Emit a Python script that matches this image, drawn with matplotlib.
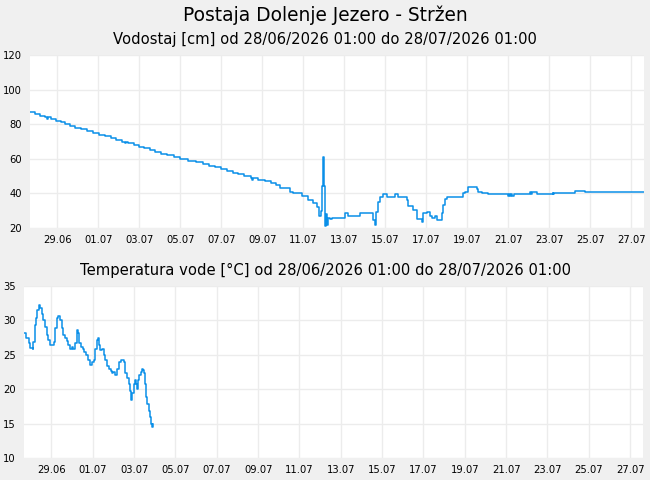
import datetime as dt
import matplotlib
matplotlib.use("Agg")
import matplotlib.pyplot as plt
import matplotlib.dates as mdates

# cas v dnevih od 28.06.2026 00:00
zacetek = dt.datetime(2026, 6, 28)

vodostaj_t = [-0.33, -0.1, 0.15, 0.4, 0.5, 0.55, 0.7, 0.95, 1.2, 1.4, 1.6, 1.85, 2.15,
              2.45, 2.75, 3.05, 3.35, 3.6, 3.85, 4.15, 4.3, 4.35, 4.45, 4.75, 5.0,
              5.25, 5.5, 5.75, 6.05, 6.35, 6.7, 7.0, 7.4, 7.75, 8.1, 8.4, 8.7, 9.0,
              9.3, 9.55, 9.8, 10.1, 10.45, 10.5, 10.55, 10.8, 11.15, 11.4, 11.65,
              11.86, 12.34,
              12.49, 12.93, 13.22, 13.47, 13.66, 13.76, 13.84, 13.91, 13.97, 14.0,
              14.05, 14.1, 14.15, 14.2, 14.3, 14.39, 14.78, 15.03, 15.17, 15.76,
              16.39, 16.49, 16.57, 16.63, 16.73, 16.87, 17.06, 17.46, 17.61, 18.05,
              18.1, 18.34, 18.54, 18.77, 18.83, 19.03, 19.17, 19.27, 19.42, 19.52,
              19.76, 19.81, 19.91, 20.01, 20.78, 20.88, 21.02, 21.46, 21.51, 21.7,
              22.0, 22.97, 23.02, 23.1, 23.15, 23.2, 23.3, 24.05, 24.1, 24.15, 24.39,
              25.17, 25.2, 25.25, 26.24, 26.73, 29.62]
vodostaj = [87, 86, 85, 84, 83, 84, 83, 82, 81, 80, 79, 78, 77,
            76, 75, 74, 73, 72, 71, 70, 69, 70, 69, 68, 67,
            66, 65, 64, 63, 62, 61, 60, 59, 58, 57, 56, 55, 54,
            53, 52, 51, 50, 49, 48, 49, 48, 47, 46, 45,
            43, 41,
            40, 38.5, 36.2, 34.3, 32.4, 27, 30, 44, 61, 44,
            21, 28, 22, 26, 25, 25.5, 26, 28.5, 27.1, 28.5,
            24.6, 21.7, 29.5, 35.2, 38.1, 39.5, 38.1, 39.5, 38.1, 36.2,
            33, 30.4, 25.2, 23.7, 28.5, 29.5, 27, 25.6, 27, 24.6,
            28.7, 33.3, 36.6, 38.1, 40, 40.7, 43.6, 42.4, 41, 40,
            39.5, 38.6, 39.5, 38.6, 39.5, 38.6, 39.5, 40.6, 39.5, 40.6, 39.5,
            40.5, 39.7, 40.5, 41.2, 40.6, 40.6]

temp_t = [-0.32, -0.22, -0.11, -0.06, 0.10, 0.13, 0.18, 0.25, 0.32, 0.39, 0.45, 0.54,
          0.61, 0.70, 0.78, 0.85, 0.94, 1.10, 1.18, 1.26, 1.34, 1.42, 1.50, 1.58,
          1.66, 1.75, 1.82, 1.90, 1.99, 2.06, 2.15, 2.23, 2.28, 2.35, 2.42, 2.52,
          2.58, 2.68, 2.79, 2.87, 2.95, 3.07, 3.11, 3.20, 3.24, 3.31, 3.36, 3.44,
          3.52, 3.60, 3.68, 3.76, 3.87, 3.92, 4.00, 4.08, 4.19, 4.28, 4.36, 4.45,
          4.53, 4.58, 4.65, 4.73, 4.81, 4.87, 4.92, 4.97, 5.02, 5.08, 5.13, 5.18,
          5.24, 5.33, 5.40, 5.45, 5.50, 5.53, 5.58, 5.64, 5.71, 5.76, 5.81, 5.86,
          5.91]
temp = [28.2, 27.4, 26.7, 26.0, 25.9, 26.9, 29.3, 30.4, 31.5, 32.3, 31.8, 31.0,
        30.1, 29.1, 27.9, 27.1, 26.4, 26.9, 28.9, 30.3, 30.7, 30.1, 28.9, 27.9,
        27.5, 27.0, 26.4, 25.8, 26.2, 25.9, 26.7, 28.6, 28.2, 26.7, 26.2, 25.9,
        25.4, 25.0, 24.2, 23.5, 24.0, 24.2, 25.9, 27.1, 27.4, 26.4, 25.7, 25.9,
        25.0, 24.2, 23.3, 23.0, 22.6, 22.3, 22.5, 22.1, 23.0, 24.0, 24.3, 24.2,
        24.0, 22.3, 21.6, 20.8, 19.8, 18.4, 19.4, 20.8, 21.3, 20.7, 20.1, 21.3,
        22.0, 22.5, 23.0, 22.8, 22.3, 20.8, 18.9, 17.9, 16.9, 15.9, 15.0, 14.5,
        15.0]

x_od = mdates.date2num(zacetek) - 0.33
x_do = mdates.date2num(zacetek) + 29.62
oznake_dni = [zacetek + dt.timedelta(days=d) for d in range(1, 30, 2)]

modra = "#0a8fe8"
siva = "#ececec"

fig = plt.figure(figsize=(6.5, 4.8), dpi=100, facecolor="#f0f0f0")
fig.text(0.5, 0.969, "Postaja Dolenje Jezero - Stržen", ha="center", va="center", fontsize=13.4)
fig.text(0.5, 0.917, "Vodostaj [cm] od 28/06/2026 01:00 do 28/07/2026 01:00",
         ha="center", va="center", fontsize=10.6)
fig.text(0.5, 0.4375, "Temperatura vode [°C] od 28/06/2026 01:00 do 28/07/2026 01:00",
         ha="center", va="center", fontsize=10.6)

ax1 = fig.add_axes([0.0462, 0.525, 0.9446, 0.3604])
ax2 = fig.add_axes([0.0369, 0.0458, 0.9523, 0.3584])

x1 = [mdates.date2num(zacetek) + t for t in vodostaj_t]
x2 = [mdates.date2num(zacetek) + t for t in temp_t]
ax1.plot(x1, vodostaj, drawstyle="steps-post", color=modra, lw=1.1)
ax2.plot(x2, temp, drawstyle="steps-post", color=modra, lw=1.1)

ax1.set_ylim(20, 120)
ax1.set_yticks([20, 40, 60, 80, 100, 120])
ax2.set_ylim(10, 35)
ax2.set_yticks([10, 15, 20, 25, 30, 35])

for ax in (ax1, ax2):
    ax.set_facecolor("white")
    ax.set_xlim(x_od, x_do)
    ax.set_xticks(mdates.date2num(oznake_dni))
    ax.xaxis.set_major_formatter(mdates.DateFormatter("%d.%m"))
    ax.grid(True, color=siva, lw=1.0)
    ax.set_axisbelow(True)
    for s in ax.spines.values():
        s.set_visible(False)
    ax.tick_params(length=0, labelsize=7.2, pad=5)
    ax.tick_params(axis="y", pad=6)

fig.savefig("out.png", dpi=100, facecolor=fig.get_facecolor())
